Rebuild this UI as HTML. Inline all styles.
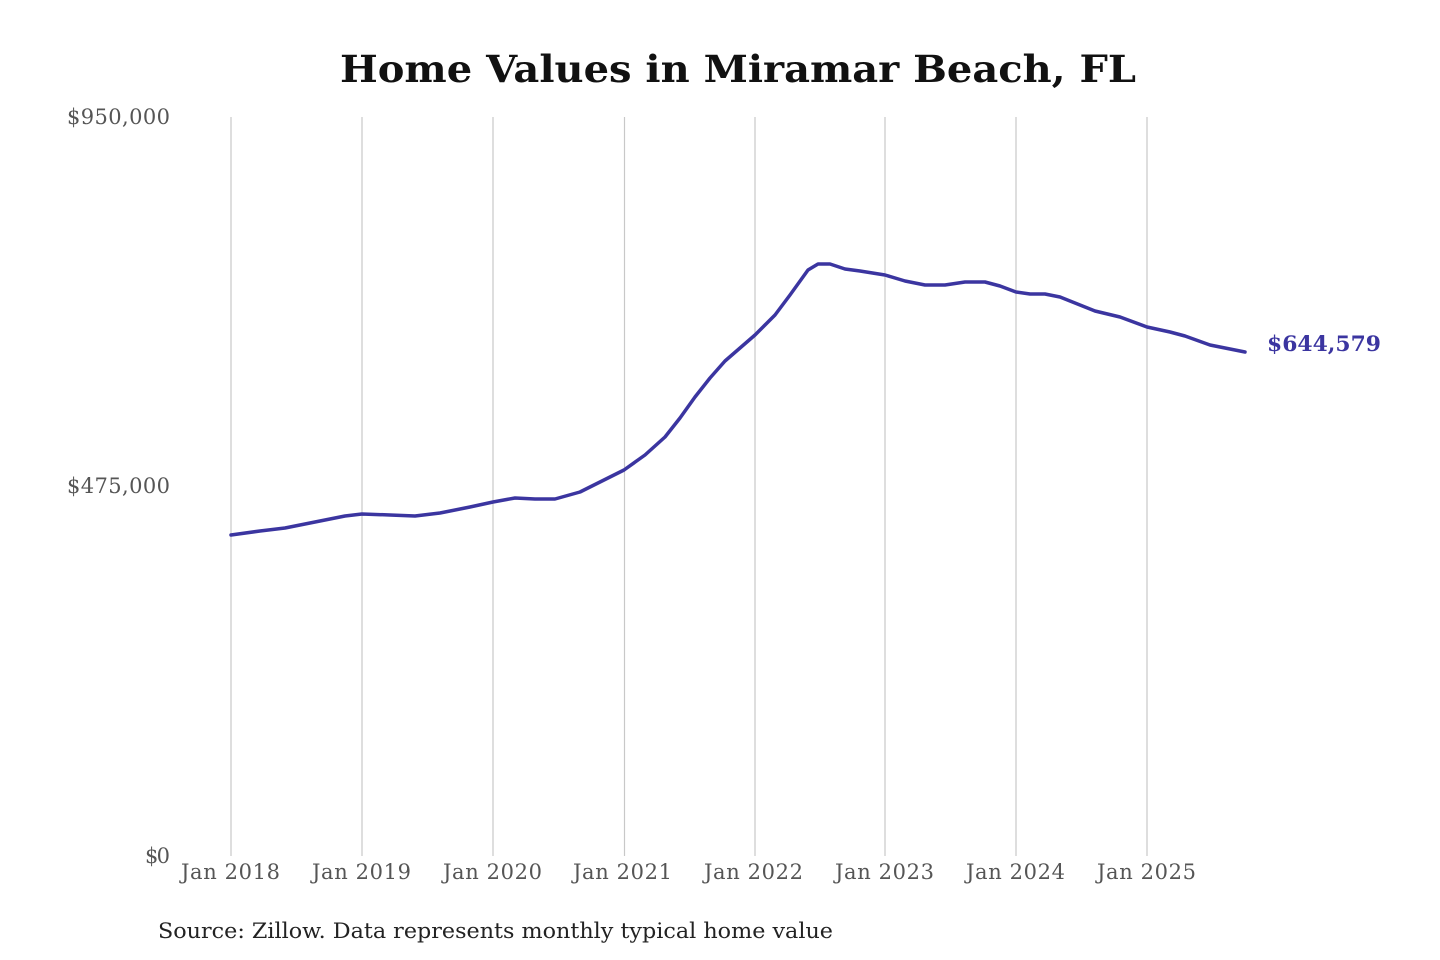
<!DOCTYPE html>
<html><head><meta charset="utf-8"><style>
html,body{margin:0;padding:0;background:#fff;}
svg{display:block;}
</style></head><body>
<svg width="1440" height="960" viewBox="0 0 1440 960" xmlns="http://www.w3.org/2000/svg">
<rect width="1440" height="960" fill="#fff"/>
<text x="738" y="82" text-anchor="middle" font-family="DejaVu Serif, Liberation Serif, serif" font-weight="bold" font-size="37" fill="#111" textLength="796" lengthAdjust="spacingAndGlyphs">Home Values in Miramar Beach, FL</text>
<g stroke="#c8c8c8" stroke-width="1.2">
<line x1="231" y1="117" x2="231" y2="856"/>
<line x1="362" y1="117" x2="362" y2="856"/>
<line x1="493" y1="117" x2="493" y2="856"/>
<line x1="624.5" y1="117" x2="624.5" y2="856"/>
<line x1="755" y1="117" x2="755" y2="856"/>
<line x1="885" y1="117" x2="885" y2="856"/>
<line x1="1016" y1="117" x2="1016" y2="856"/>
<line x1="1147" y1="117" x2="1147" y2="856"/>
</g>
<g font-family="DejaVu Serif, Liberation Serif, serif" font-size="21" fill="#555" lengthAdjust="spacingAndGlyphs">
<text x="67" y="124" textLength="103">$950,000</text>
<text x="67" y="493" textLength="103">$475,000</text>
<text x="145" y="863" textLength="25">$0</text>
<text x="181" y="879" textLength="99">Jan 2018</text>
<text x="312" y="879" textLength="99">Jan 2019</text>
<text x="443" y="879" textLength="99">Jan 2020</text>
<text x="573" y="879" textLength="99">Jan 2021</text>
<text x="704" y="879" textLength="99">Jan 2022</text>
<text x="835" y="879" textLength="99">Jan 2023</text>
<text x="966" y="879" textLength="99">Jan 2024</text>
<text x="1097" y="879" textLength="99">Jan 2025</text>
</g>
<polyline fill="none" stroke="#3b35a0" stroke-width="3.5" stroke-linejoin="round" stroke-linecap="round" points="231,535 260,531 285,528 320,521 345,516 362,514 390,515 415,516 440,513 470,507 493,502 515,498 535,499 555,499 580,492 600,482 624,470 645,455 665,437 680,418 695,397 710,378 725,361 740,348 755,335 775,315 790,295 808,270 818,264 830,264 845,269 860,271 885,275 905,281 925,285 945,285 965,282 985,282 1000,286 1016,292 1030,294 1045,294 1060,297 1075,303 1095,311 1120,317 1147,327 1170,332 1185,336 1210,345 1230,349 1245,352"/>
<text x="1267" y="351" font-family="DejaVu Serif, Liberation Serif, serif" font-weight="bold" font-size="21" fill="#3b35a0" textLength="114" lengthAdjust="spacingAndGlyphs">$644,579</text>
<text x="158" y="938" font-family="DejaVu Serif, Liberation Serif, serif" font-size="21" fill="#222" textLength="675" lengthAdjust="spacingAndGlyphs">Source: Zillow. Data represents monthly typical home value</text>
</svg>
</body></html>
